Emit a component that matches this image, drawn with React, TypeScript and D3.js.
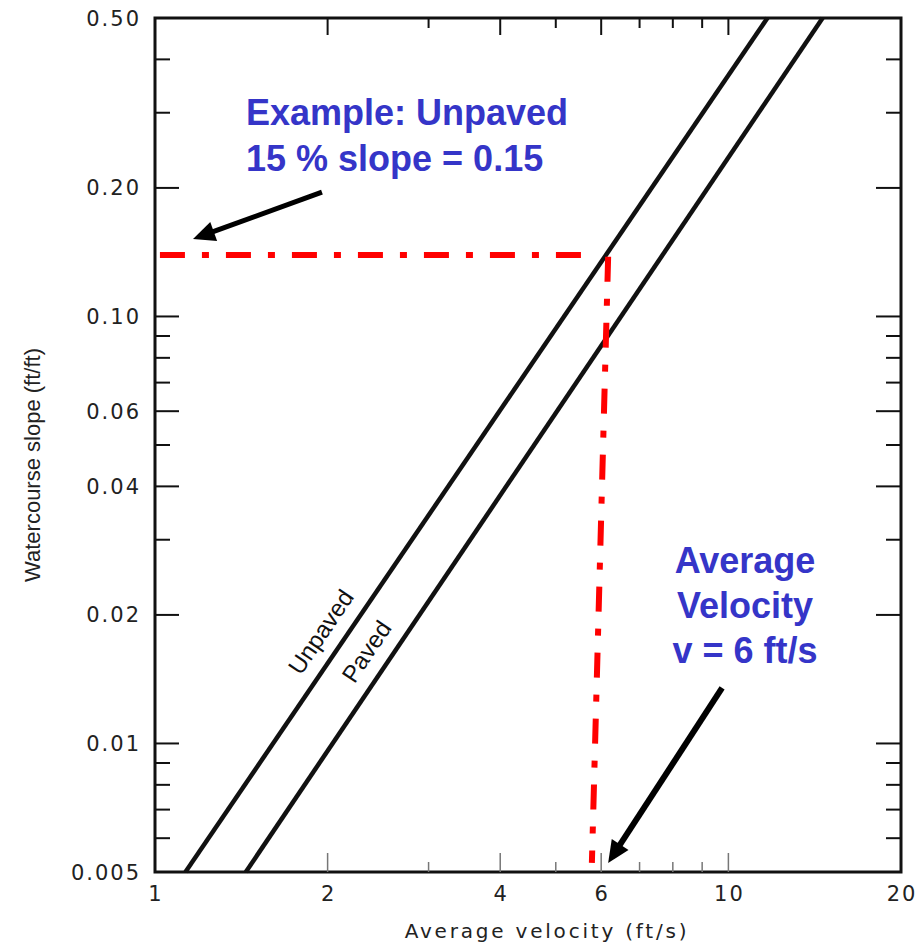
import React, { useEffect, useRef } from 'react';
import * as d3 from 'd3';

const W = 921;
const H = 944;

// axis ticks
const xTicksLabeled = [1, 2, 4, 6, 10, 20];
const xTicksMinor = [3, 5, 7, 8, 9];
const yTicksLabeled = [0.5, 0.2, 0.1, 0.06, 0.04, 0.02, 0.01, 0.005];
const yTickLabels = ['0.50', '0.20', '0.10', '0.06', '0.04', '0.02', '0.01', '0.005'];
const yTicksMinor = [0.4, 0.3, 0.09, 0.08, 0.07, 0.05, 0.03, 0.009, 0.008, 0.007, 0.006];

// curves: [velocity ft/s, slope ft/ft]
const unpaved = [[1.13, 0.005], [11.7, 0.5]];
const paved = [[1.44, 0.005], [14.6, 0.5]];
const curveLabels = [
  { name: 'Unpaved', line: unpaved, at: 0.017 },
  { name: 'Paved', line: paved, at: 0.0153 },
];

// example read-off (red dash-dot)
const readH = [[1.02, 0.1393], [5.56, 0.1393]];
const readV = [[6.17, 0.138], [5.78, 0.00525]];

// annotation arrows: tail -> tip
const arrows = [
  { from: [1.955, 0.1956], to: [1.165, 0.1518], w: 5 },
  { from: [9.75, 0.01349], to: [6.17, 0.00525], w: 6 },
];

const noteLeft = ['Example: Unpaved', '15 % slope = 0.15'];
const noteRight = ['Average', 'Velocity', 'v = 6 ft/s'];

export default function App() {
  const ref = useRef<SVGSVGElement>(null);

  useEffect(() => {
    document.body.style.margin = '0';
    const svg = d3.select(ref.current);
    svg.selectAll('*').remove();

    const left = 155, right = 901, top = 18, bottom = 872;
    const x = d3.scaleLog().domain([1, 20]).range([left, right]);
    const y = d3.scaleLog().domain([0.005, 0.5]).range([bottom, top]);

    svg.append('rect').attr('width', W).attr('height', H).attr('fill', 'white');

    const tickFont = 'DejaVu Sans, sans-serif';

    // frame
    svg.append('rect')
      .attr('x', left).attr('y', top)
      .attr('width', right - left).attr('height', bottom - top)
      .attr('fill', 'none').attr('stroke', '#111').attr('stroke-width', 3);

    // y ticks, both sides, inward
    const g = svg.append('g').attr('stroke', '#111').attr('stroke-width', 2);
    yTicksLabeled.slice(1, -1).forEach(t => {
      g.append('line').attr('x1', left).attr('x2', left + 24).attr('y1', y(t)).attr('y2', y(t));
      g.append('line').attr('x1', right).attr('x2', right - 25).attr('y1', y(t)).attr('y2', y(t));
    });
    yTicksMinor.forEach(t => {
      g.append('line').attr('x1', left).attr('x2', left + 15).attr('y1', y(t)).attr('y2', y(t));
      g.append('line').attr('x1', right).attr('x2', right - 15).attr('y1', y(t)).attr('y2', y(t));
    });

    // x ticks: top dark, bottom faint
    const major = [2, 4, 6, 10];
    [...xTicksLabeled.slice(1, -1), ...xTicksMinor].forEach(t => {
      const isMajor = major.includes(t);
      g.append('line').attr('x1', x(t)).attr('x2', x(t))
        .attr('y1', top).attr('y2', top + (isMajor ? 17 : 10));
      g.append('line').attr('x1', x(t)).attr('x2', x(t))
        .attr('y1', bottom).attr('y2', bottom - (isMajor ? 19 : 10))
        .attr('stroke', '#777').attr('stroke-width', 1.5);
    });

    // tick labels
    svg.append('g').selectAll('text').data(yTicksLabeled).join('text')
      .attr('x', 141).attr('y', d => y(d)).attr('dy', '0.36em')
      .attr('text-anchor', 'end')
      .attr('font-family', tickFont).attr('font-size', 21)
      .attr('letter-spacing', 2).attr('fill', '#222')
      .text((d, i) => yTickLabels[i]);

    svg.append('g').selectAll('text').data(xTicksLabeled).join('text')
      .attr('x', d => x(d) + 1).attr('y', 901)
      .attr('text-anchor', 'middle')
      .attr('font-family', tickFont).attr('font-size', 21)
      .attr('letter-spacing', 2).attr('fill', '#222')
      .text(d => String(d));

    // axis titles
    svg.append('text')
      .attr('x', 547).attr('y', 938).attr('text-anchor', 'middle')
      .attr('font-family', tickFont).attr('font-size', 20)
      .attr('letter-spacing', 2.8).attr('fill', '#222')
      .text('Average velocity (ft/s)');

    svg.append('text')
      .attr('transform', 'translate(40,465) rotate(-90)')
      .attr('text-anchor', 'middle')
      .attr('font-family', 'Liberation Sans, Arial, sans-serif').attr('font-size', 22)
      .attr('fill', '#222')
      .text('Watercourse slope (ft/ft)');

    // curves
    const line = d3.line<number[]>().x(d => x(d[0])).y(d => y(d[1]));
    [unpaved, paved].forEach(c => {
      svg.append('path').attr('d', line(c)!)
        .attr('fill', 'none').attr('stroke', '#111').attr('stroke-width', 4.5);
    });

    // curve labels, parallel to their line, on the upper-left side
    curveLabels.forEach(cl => {
      const [p0, p1] = cl.line;
      const x0 = x(p0[0]), y0 = y(p0[1]), x1 = x(p1[0]), y1 = y(p1[1]);
      const py = y(cl.at);
      const t = (py - y0) / (y1 - y0);
      const px = x0 + t * (x1 - x0);
      const ang = Math.atan2(y1 - y0, x1 - x0) * 180 / Math.PI;
      svg.append('text')
        .attr('transform', `translate(${px},${py}) rotate(${ang})`)
        .attr('y', -15).attr('text-anchor', 'middle')
        .attr('font-family', 'Liberation Sans, Arial, sans-serif').attr('font-size', 24)
        .attr('fill', '#111')
        .text(cl.name);
    });

    // red read-off lines
    [readH, readV].forEach(c => {
      svg.append('path').attr('d', line(c)!)
        .attr('fill', 'none').attr('stroke', '#ff0000').attr('stroke-width', 6)
        .attr('stroke-dasharray', '25 17 7 17');
    });

    // arrows
    arrows.forEach(a => {
      const tx = x(a.to[0]), ty = y(a.to[1]);
      const fx = x(a.from[0]), fy = y(a.from[1]);
      const len = Math.hypot(tx - fx, ty - fy);
      const ux = (tx - fx) / len, uy = (ty - fy) / len;
      const hl = 22, hw = 10;
      const bx = tx - ux * hl, by = ty - uy * hl;
      svg.append('line')
        .attr('x1', fx).attr('y1', fy).attr('x2', bx + ux * 2).attr('y2', by + uy * 2)
        .attr('stroke', '#000').attr('stroke-width', a.w);
      svg.append('path')
        .attr('d', `M${tx},${ty}L${bx - uy * hw},${by + ux * hw}L${bx + uy * hw},${by - ux * hw}Z`)
        .attr('fill', '#000');
    });

    // blue notes
    const blue = '#3535c8';
    const noteFont = 'Liberation Sans, Arial, sans-serif';
    noteLeft.forEach((s, i) => {
      svg.append('text')
        .attr('x', 246).attr('y', 125 + i * 46)
        .attr('font-family', noteFont).attr('font-weight', 'bold').attr('font-size', 36)
        .attr('fill', blue).text(s);
    });
    noteRight.forEach((s, i) => {
      svg.append('text')
        .attr('x', 745).attr('y', 573 + i * 45).attr('text-anchor', 'middle')
        .attr('font-family', noteFont).attr('font-weight', 'bold').attr('font-size', 36)
        .attr('fill', blue).text(s);
    });
  }, []);

  return <svg ref={ref} width={W} height={H} style={{ display: 'block' }} />;
}
